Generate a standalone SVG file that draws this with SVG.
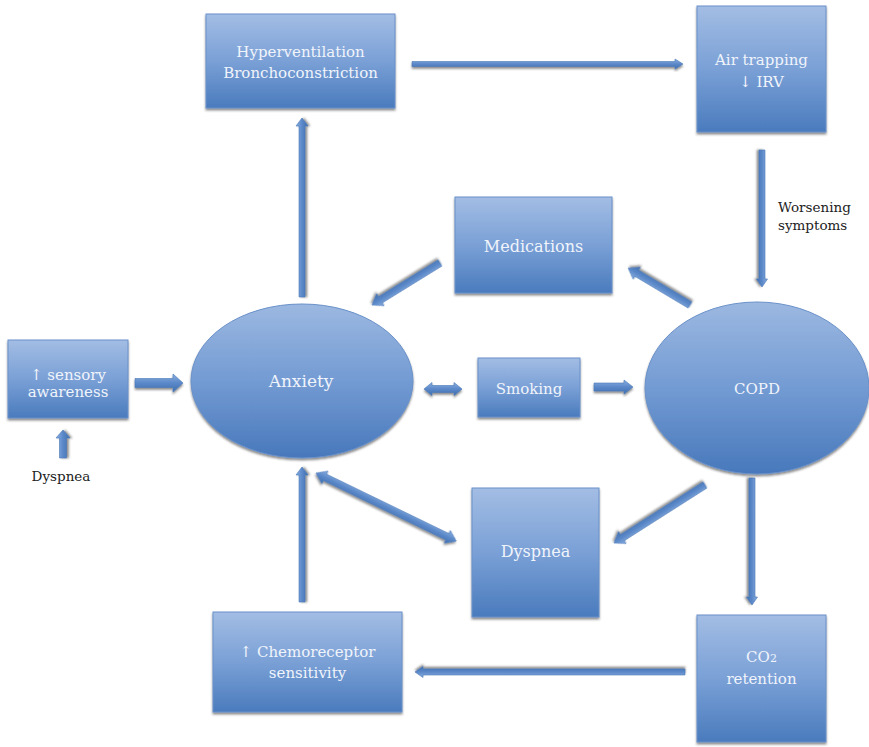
<svg xmlns="http://www.w3.org/2000/svg" width="869" height="747" viewBox="0 0 869 747">
  <defs>
    <linearGradient id="boxFill" x1="0" y1="0" x2="0" y2="1">
      <stop offset="0" stop-color="#a3bde4"/>
      <stop offset="0.5" stop-color="#7aa0d6"/>
      <stop offset="1" stop-color="#4a7bbd"/>
    </linearGradient>
    <linearGradient id="ovalFill" x1="0" y1="0" x2="0" y2="1">
      <stop offset="0" stop-color="#9cb8e1"/>
      <stop offset="0.5" stop-color="#739bd3"/>
      <stop offset="1" stop-color="#4878bb"/>
    </linearGradient>
    <linearGradient id="arrowFill" x1="0" y1="0" x2="0" y2="1">
      <stop offset="0" stop-color="#8bb0e2"/>
      <stop offset="0.5" stop-color="#5b88c8"/>
      <stop offset="1" stop-color="#3f6fb0"/>
    </linearGradient>
    <filter id="shadow" x="-20%" y="-20%" width="140%" height="150%">
      <feDropShadow dx="0" dy="2" stdDeviation="1.2" flood-color="#333" flood-opacity="0.55"/>
    </filter>
  </defs>
  <style>
    .box { fill: url(#boxFill); stroke: #6a91c9; stroke-width: 1; filter: url(#shadow); }
    .oval { fill: url(#ovalFill); stroke: #6a91c9; stroke-width: 1; filter: url(#shadow); }
    .arrow { fill: url(#arrowFill); stroke: #4a78b8; stroke-width: 0.6; filter: url(#shadow); }
    .lbl { font-family: "DejaVu Serif", "Liberation Serif", serif; font-size: 15px; fill: #f0f4fb; text-anchor: middle; }
    .big { font-size: 16px; }
    .huge { font-size: 17px; }
    .note { font-family: "DejaVu Serif", "Liberation Serif", serif; font-size: 13.5px; fill: #222; }
  </style>
  <rect width="869" height="747" fill="#ffffff"/>

  <!-- connectors: block arrows drawn along +x, then placed and rotated -->
  <g id="connectors">
    <!-- Hyperventilation -> Air trapping -->
    <polygon class="arrow" transform="translate(412,64)" points="0,-2.5 263,-2.5 263,-5 271,0 263,5 263,2.5 0,2.5"/>
    <!-- Air trapping -> COPD -->
    <polygon class="arrow" transform="translate(762,150) rotate(90)" points="0,-3 129,-3 129,-5.5 137,0 129,5.5 129,3 0,3"/>
    <!-- COPD -> Medications -->
    <polygon class="arrow" transform="translate(690,305) rotate(-149.2)" points="0,-3.5 62,-3.5 62,-7 72,0 62,7 62,3.5 0,3.5"/>
    <!-- Medications -> Anxiety -->
    <polygon class="arrow" transform="translate(440,263) rotate(148.3)" points="0,-3.5 70,-3.5 70,-7 80,0 70,7 70,3.5 0,3.5"/>
    <!-- Anxiety -> Hyperventilation -->
    <polygon class="arrow" transform="translate(302,297) rotate(-90)" points="0,-3 171,-3 171,-6 179,0 171,6 171,3 0,3"/>
    <!-- sensory awareness -> Anxiety -->
    <polygon class="arrow" transform="translate(135,383)" points="0,-4.5 38,-4.5 38,-9 48,0 38,9 38,4.5 0,4.5"/>
    <!-- Dyspnea -> sensory awareness -->
    <polygon class="arrow" transform="translate(63,458) rotate(-90)" points="0,-3.5 20,-3.5 20,-7 28,0 20,7 20,3.5 0,3.5"/>
    <!-- Anxiety <-> Smoking -->
    <polygon class="arrow" transform="translate(424,389)" points="0,0 8,-6.5 8,-3.5 30,-3.5 30,-6.5 38,0 30,6.5 30,3.5 8,3.5 8,6.5"/>
    <!-- Smoking -> COPD -->
    <polygon class="arrow" transform="translate(594,387)" points="0,-4 30,-4 30,-7 39,0 30,7 30,4 0,4"/>
    <!-- Anxiety <-> Dyspnea -->
    <polygon class="arrow" transform="translate(316,473) rotate(25.9)" points="0,0 10,-7 10,-3.5 146,-3.5 146,-7 156,0 146,7 146,3.5 10,3.5 10,7"/>
    <!-- COPD -> Dyspnea -->
    <polygon class="arrow" transform="translate(705,485) rotate(147.5)" points="0,-3.5 98,-3.5 98,-7 108,0 98,7 98,3.5 0,3.5"/>
    <!-- COPD -> CO2 retention -->
    <polygon class="arrow" transform="translate(752,478) rotate(90)" points="0,-3 119,-3 119,-5.5 127,0 119,5.5 119,3 0,3"/>
    <!-- CO2 retention -> Chemoreceptor sensitivity -->
    <polygon class="arrow" transform="translate(685,672) rotate(180)" points="0,-3 262,-3 262,-5.5 270,0 262,5.5 262,3 0,3"/>
    <!-- Chemoreceptor sensitivity -> Anxiety -->
    <polygon class="arrow" transform="translate(302,602) rotate(-90)" points="0,-3 127,-3 127,-6 135,0 127,6 127,3 0,3"/>
  </g>

  <g id="hyperventilation">
    <rect class="box" x="206" y="14" width="189" height="94"/>
    <text class="lbl" x="300.5" y="57">Hyperventilation</text>
    <text class="lbl" x="300.5" y="78">Bronchoconstriction</text>
  </g>

  <g id="air-trapping">
    <rect class="box" x="697" y="6" width="129" height="126"/>
    <text class="lbl" x="761.5" y="65">Air trapping</text>
    <text class="lbl" x="761.5" y="87">↓ IRV</text>
  </g>

  <g id="worsening-symptoms">
    <text class="note" x="778" y="212">Worsening</text>
    <text class="note" x="778" y="230">symptoms</text>
  </g>

  <g id="medications">
    <rect class="box" x="455" y="197" width="157" height="96"/>
    <text class="lbl big" x="533.5" y="252">Medications</text>
  </g>

  <g id="sensory-awareness">
    <rect class="box" x="8" y="340" width="120" height="78"/>
    <text class="lbl" x="68" y="380">↑ sensory</text>
    <text class="lbl" x="68" y="397">awareness</text>
  </g>

  <g id="dyspnea-label">
    <text class="note" x="61" y="481" text-anchor="middle">Dyspnea</text>
  </g>

  <g id="anxiety">
    <ellipse class="oval" cx="302" cy="381" rx="111" ry="77"/>
    <text class="lbl huge" x="301" y="387">Anxiety</text>
  </g>

  <g id="smoking">
    <rect class="box" x="478" y="358" width="102" height="59"/>
    <text class="lbl" x="529" y="394">Smoking</text>
  </g>

  <g id="copd">
    <ellipse class="oval" cx="757" cy="388" rx="112" ry="86"/>
    <text class="lbl" x="757" y="394">COPD</text>
  </g>

  <g id="dyspnea">
    <rect class="box" x="472" y="488" width="127" height="129"/>
    <text class="lbl big" x="535.5" y="557">Dyspnea</text>
  </g>

  <g id="chemoreceptor">
    <rect class="box" x="213" y="612" width="189" height="100"/>
    <text class="lbl" x="307.5" y="657">↑ Chemoreceptor</text>
    <text class="lbl" x="307.5" y="678">sensitivity</text>
  </g>

  <g id="co2-retention">
    <rect class="box" x="697" y="615" width="129" height="127"/>
    <text class="lbl" x="761.5" y="662">CO<tspan font-size="11">2</tspan></text>
    <text class="lbl" x="761.5" y="684">retention</text>
  </g>
</svg>
